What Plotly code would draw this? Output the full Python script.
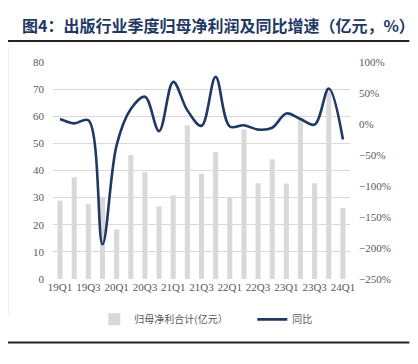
import plotly.graph_objects as go

quarters = ["19Q1","19Q2","19Q3","19Q4","20Q1","20Q2","20Q3","20Q4","21Q1","21Q2","21Q3","21Q4",
            "22Q1","22Q2","22Q3","22Q4","23Q1","23Q2","23Q3","23Q4","24Q1"]
net_profit = [28.9, 37.5, 27.6, 30.3, 18.3, 45.7, 39.4, 26.8, 30.8, 56.6, 38.8, 46.8,
              30.2, 55.1, 35.3, 44.1, 35.2, 59.2, 35.3, 69.0, 26.2]
yoy = [8, 1, 6, -194, -34, 24, 44, -11.5, 68, 22, -3, 76,
       -4, -2, -9, -6, 17, 8, -1, 57, -25]
tick_labels = quarters[::2]

title_text = "图4：出版行业季度归母净利润及同比增速（亿元，%）"

serif = "Liberation Serif, Times New Roman, serif"
cjk = "Noto Sans CJK SC, sans-serif"
gray_txt = "#595959"

fig = go.Figure()
fig.add_trace(go.Bar(x=quarters, y=net_profit, name="归母净利合计(亿元）",
                     marker=dict(color="#D9D9D9", line=dict(width=0)), yaxis="y"))
fig.add_trace(go.Scatter(x=quarters, y=yoy, name="同比", mode="lines",
                         line=dict(color="#1F3864", width=2.6, shape="spline", smoothing=1.0),
                         yaxis="y2"))

W, H = 418, 364
OFF = 8  # page body offset
ml, mt = 52.6 - OFF, 62 - OFF
pw, ph = 297.9, 216.7
mr, mb = W - ml - pw, H - mt - ph

def px_x(x):
    return (x - OFF - ml) / pw

def px_y(y):
    return 1 - (y - OFF - mt) / ph

fig.update_layout(
    width=W, height=H,
    margin=dict(l=ml, r=mr, t=mt, b=mb, pad=0, autoexpand=False),
    paper_bgcolor="white", plot_bgcolor="white",
    bargap=0.64,
    showlegend=True,
    legend=dict(orientation="h", xref="paper", yref="paper",
                x=px_x(411), xanchor="right", y=px_y(319), yanchor="middle",
                font=dict(family=cjk, size=10, color=gray_txt), itemwidth=30,
                entrywidth=113, entrywidthmode="pixels",
                bgcolor="rgba(0,0,0,0)", tracegroupgap=0),
    xaxis=dict(type="category", tickmode="array", tickvals=tick_labels, ticktext=tick_labels,
               tickfont=dict(family=serif, size=11, color=gray_txt), showgrid=False,
               showline=False, ticks="", tickangle=0, automargin=False),
    yaxis=dict(range=[0, 80], dtick=10, showgrid=True, gridcolor="#D9D9D9", gridwidth=1,
               zeroline=False, showline=False, automargin=False,
               tickfont=dict(family=serif, size=11, color=gray_txt), ticks="", ticklabelstandoff=8),
    yaxis2=dict(range=[-250, 100], dtick=50, overlaying="y", side="right", showgrid=False,
                zeroline=False, showline=False, ticksuffix="%", automargin=False,
                tickfont=dict(family=serif, size=11, color=gray_txt), ticks="", ticklabelstandoff=8),
    annotations=[dict(text="<b>" + title_text + "</b>", xref="paper", yref="paper",
                      x=px_x(20), y=px_y(25), xanchor="left", yanchor="middle", showarrow=False,
                      font=dict(family=cjk, size=16, color="#1F3864"))],
    shapes=[
        dict(type="line", xref="paper", yref="paper", x0=px_x(0), x1=px_x(410),
             y0=px_y(41), y1=px_y(41), line=dict(color="#222222", width=2)),
        dict(type="line", xref="paper", yref="paper", x0=px_x(0), x1=px_x(410),
             y0=px_y(342), y1=px_y(342), line=dict(color="#222222", width=2)),
        dict(type="line", xref="paper", yref="paper", x0=px_x(8), x1=px_x(8),
             y0=px_y(45), y1=px_y(315), line=dict(color="#F0F0F0", width=1)),
    ],
)

fig.write_html("out.html")
